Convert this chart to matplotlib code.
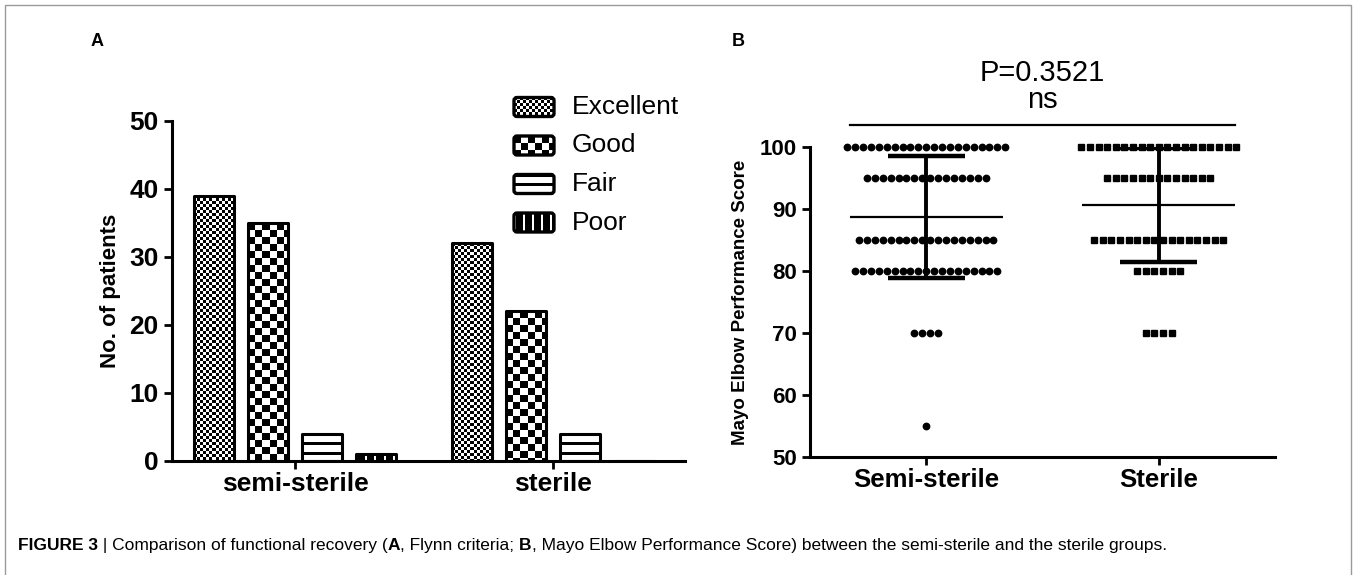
import numpy as np
import matplotlib
matplotlib.use("Agg")
import matplotlib.pyplot as plt
from matplotlib.patches import FancyBboxPatch, Rectangle

plt.rcParams['font.family'] = ['Liberation Sans', 'DejaVu Sans']

# Panel A: Flynn criteria (number of patients)
groups_a = ['semi-sterile', 'sterile']
grades = ['Excellent', 'Good', 'Fair', 'Poor']
semi_counts = [39, 35, 4, 1]
sterile_counts = [32, 22, 4, 0]

# Panel B: Mayo Elbow Performance Score, patients per score level
groups_b = ['Semi-sterile', 'Sterile']
score_levels = [100, 95, 85, 80, 70, 55]
semi_n = [21, 16, 18, 19, 4, 1]
sterile_n = [19, 13, 16, 6, 4, 0]
p_label = 'P=0.3521'
sig_label = 'ns'

W, H = 1357, 575
fig = plt.figure(figsize=(W / 100, H / 100), dpi=100)


def pattern(kind, h, w):
    # 1 = white, 0 = black
    i, j = np.mgrid[0:h, 0:w]
    if kind == 'Excellent':
        return ((i // 3 + j // 3) % 2).astype(float)
    if kind == 'Good':
        return ((i // 7 + j // 7) % 2).astype(float)
    if kind == 'Fair':
        return ((i % 9) > 2).astype(float)
    return ((j % 9) < 2).astype(float)


def fill_texture(ax, patch, kind):
    bb = patch.get_window_extent()
    w, h = max(int(round(bb.width)), 1), max(int(round(bb.height)), 1)
    inv = ax.transData.inverted()
    x0, y0 = inv.transform((bb.x0, bb.y0))
    x1, y1 = inv.transform((bb.x1, bb.y1))
    im = ax.imshow(pattern(kind, h, w), cmap='gray', vmin=0, vmax=1,
                   extent=(x0, x1, y0, y1), aspect='auto',
                   interpolation='nearest', zorder=1)
    im.set_clip_path(patch)


# ---------------- panel A ----------------
axA = fig.add_axes([172 / W, 114 / H, 513 / W, 340 / H])
xa = np.arange(len(groups_a))
bw = 0.155
step = 0.209
xlimA, ylimA = (-0.477, 1.51), (0, 50)
axA.set_xlim(xlimA)
axA.set_ylim(ylimA)
bars = []
for k, g in enumerate(grades):
    vals = [semi_counts[k], sterile_counts[k]]
    b = axA.bar(xa + (k - 1.5) * step, vals, bw, facecolor='none',
                edgecolor='black', linewidth=2.2, joinstyle='round', zorder=3)
    bars.append((g, b))
for g, b in bars:
    for p in b:
        if p.get_height() > 0:
            fill_texture(axA, p, g)
axA.set_xlim(xlimA)
axA.set_ylim(ylimA)
axA.set_yticks(range(0, 51, 10))
axA.set_xticks(xa)
axA.set_xticklabels(groups_a, fontweight='bold', fontsize=19)
axA.tick_params(axis='y', labelsize=19, width=2, length=6)
axA.tick_params(axis='x', width=2, length=6, pad=2)
for lab in axA.get_yticklabels():
    lab.set_fontweight('bold')
axA.set_ylabel('No. of patients', fontsize=16, fontweight='bold', labelpad=6)
for s in ['top', 'right']:
    axA.spines[s].set_visible(False)
for s in ['left', 'bottom']:
    axA.spines[s].set_linewidth(2.2)

# ---------------- panel B ----------------
axB = fig.add_axes([810 / W, 118 / H, 465 / W, 310 / H])
axB.set_xlim(-0.5, 1.5)
axB.set_ylim(50, 100)
spacing = [0.034, 0.037]
markers = [('o', 4.6), ('s', 5.0)]
for gi, counts in enumerate([semi_n, sterile_n]):
    for lvl, n in zip(score_levels, counts):
        if n == 0:
            continue
        xs = gi + (np.arange(n) - (n - 1) / 2) * spacing[gi]
        axB.plot(xs, [lvl] * n, linestyle='none', marker=markers[gi][0],
                 markersize=markers[gi][1], color='black', clip_on=False, zorder=3)
    scores = np.repeat(score_levels, counts)
    m, sd = scores.mean(), scores.std(ddof=1)
    axB.hlines(m, gi - 0.33, gi + 0.33, color='black', linewidth=1.6, zorder=4)
    axB.vlines(gi, m - sd, m + sd, color='black', linewidth=2.8, zorder=4)
    axB.hlines([m - sd, m + sd], gi - 0.165, gi + 0.165, color='black',
               linewidth=3.2, zorder=4)

axB.plot([-0.326, 1.326], [103.5, 103.5], color='black', linewidth=1.6, clip_on=False)
axB.text(0.5, 107.6, sig_label, ha='center', va='center', fontsize=21)
axB.text(0.5, 112.0, p_label, ha='center', va='center', fontsize=21)
axB.set_yticks(range(50, 101, 10))
axB.set_xticks([0, 1])
axB.set_xticklabels(groups_b, fontweight='bold', fontsize=18.5)
axB.tick_params(axis='y', labelsize=16, width=2, length=6)
axB.tick_params(axis='x', width=2, length=6, pad=2)
for lab in axB.get_yticklabels():
    lab.set_fontweight('bold')
axB.set_ylabel('Mayo Elbow Performance Score', fontsize=13.5, fontweight='bold', labelpad=8)
for s in ['top', 'right']:
    axB.spines[s].set_visible(False)
for s in ['left', 'bottom']:
    axB.spines[s].set_linewidth(2.2)

# ---------------- overlay in pixel coords: legend, labels, caption ----------------
ov = fig.add_axes([0, 0, 1, 1], zorder=5)
ov.set_xlim(0, W)
ov.set_ylim(H, 0)
ov.axis('off')
ov.patch.set_alpha(0)

for k, g in enumerate(grades):
    cy = 107 + k * 38.5
    box = FancyBboxPatch((514, cy - 9.5), 40, 19, boxstyle='round,pad=0,rounding_size=3',
                         facecolor='none', edgecolor='black', linewidth=2.4, zorder=3)
    ov.add_patch(box)
    fill_texture(ov, box, g)
    ov.text(572, cy, g, fontsize=19, va='center', ha='left')
ov.set_xlim(0, W)
ov.set_ylim(H, 0)

ov.text(97, 42, 'A', fontsize=13, fontweight='bold', va='center', ha='center')
ov.text(738, 42, 'B', fontsize=13, fontweight='bold', va='center', ha='center')

ov.add_patch(Rectangle((5, 5), W - 11, H + 10, facecolor='none',
                       edgecolor='#9a9a9a', linewidth=1))

pieces = [('FIGURE 3', 'bold'), (' | Comparison of functional recovery (', 'normal'),
          ('A', 'bold'), (', Flynn criteria; ', 'normal'), ('B', 'bold'),
          (', Mayo Elbow Performance Score) between the semi-sterile and the sterile groups.',
           'normal')]
renderer = fig.canvas.get_renderer()
x = 18
for txt, wgt in pieces:
    t = ov.text(x, 550, txt, fontsize=12.5, fontweight=wgt, va='baseline', ha='left')
    bb = t.get_window_extent(renderer)
    x = ov.transData.inverted().transform((bb.x1, bb.y0))[0]

fig.savefig('out.png', dpi=100)
